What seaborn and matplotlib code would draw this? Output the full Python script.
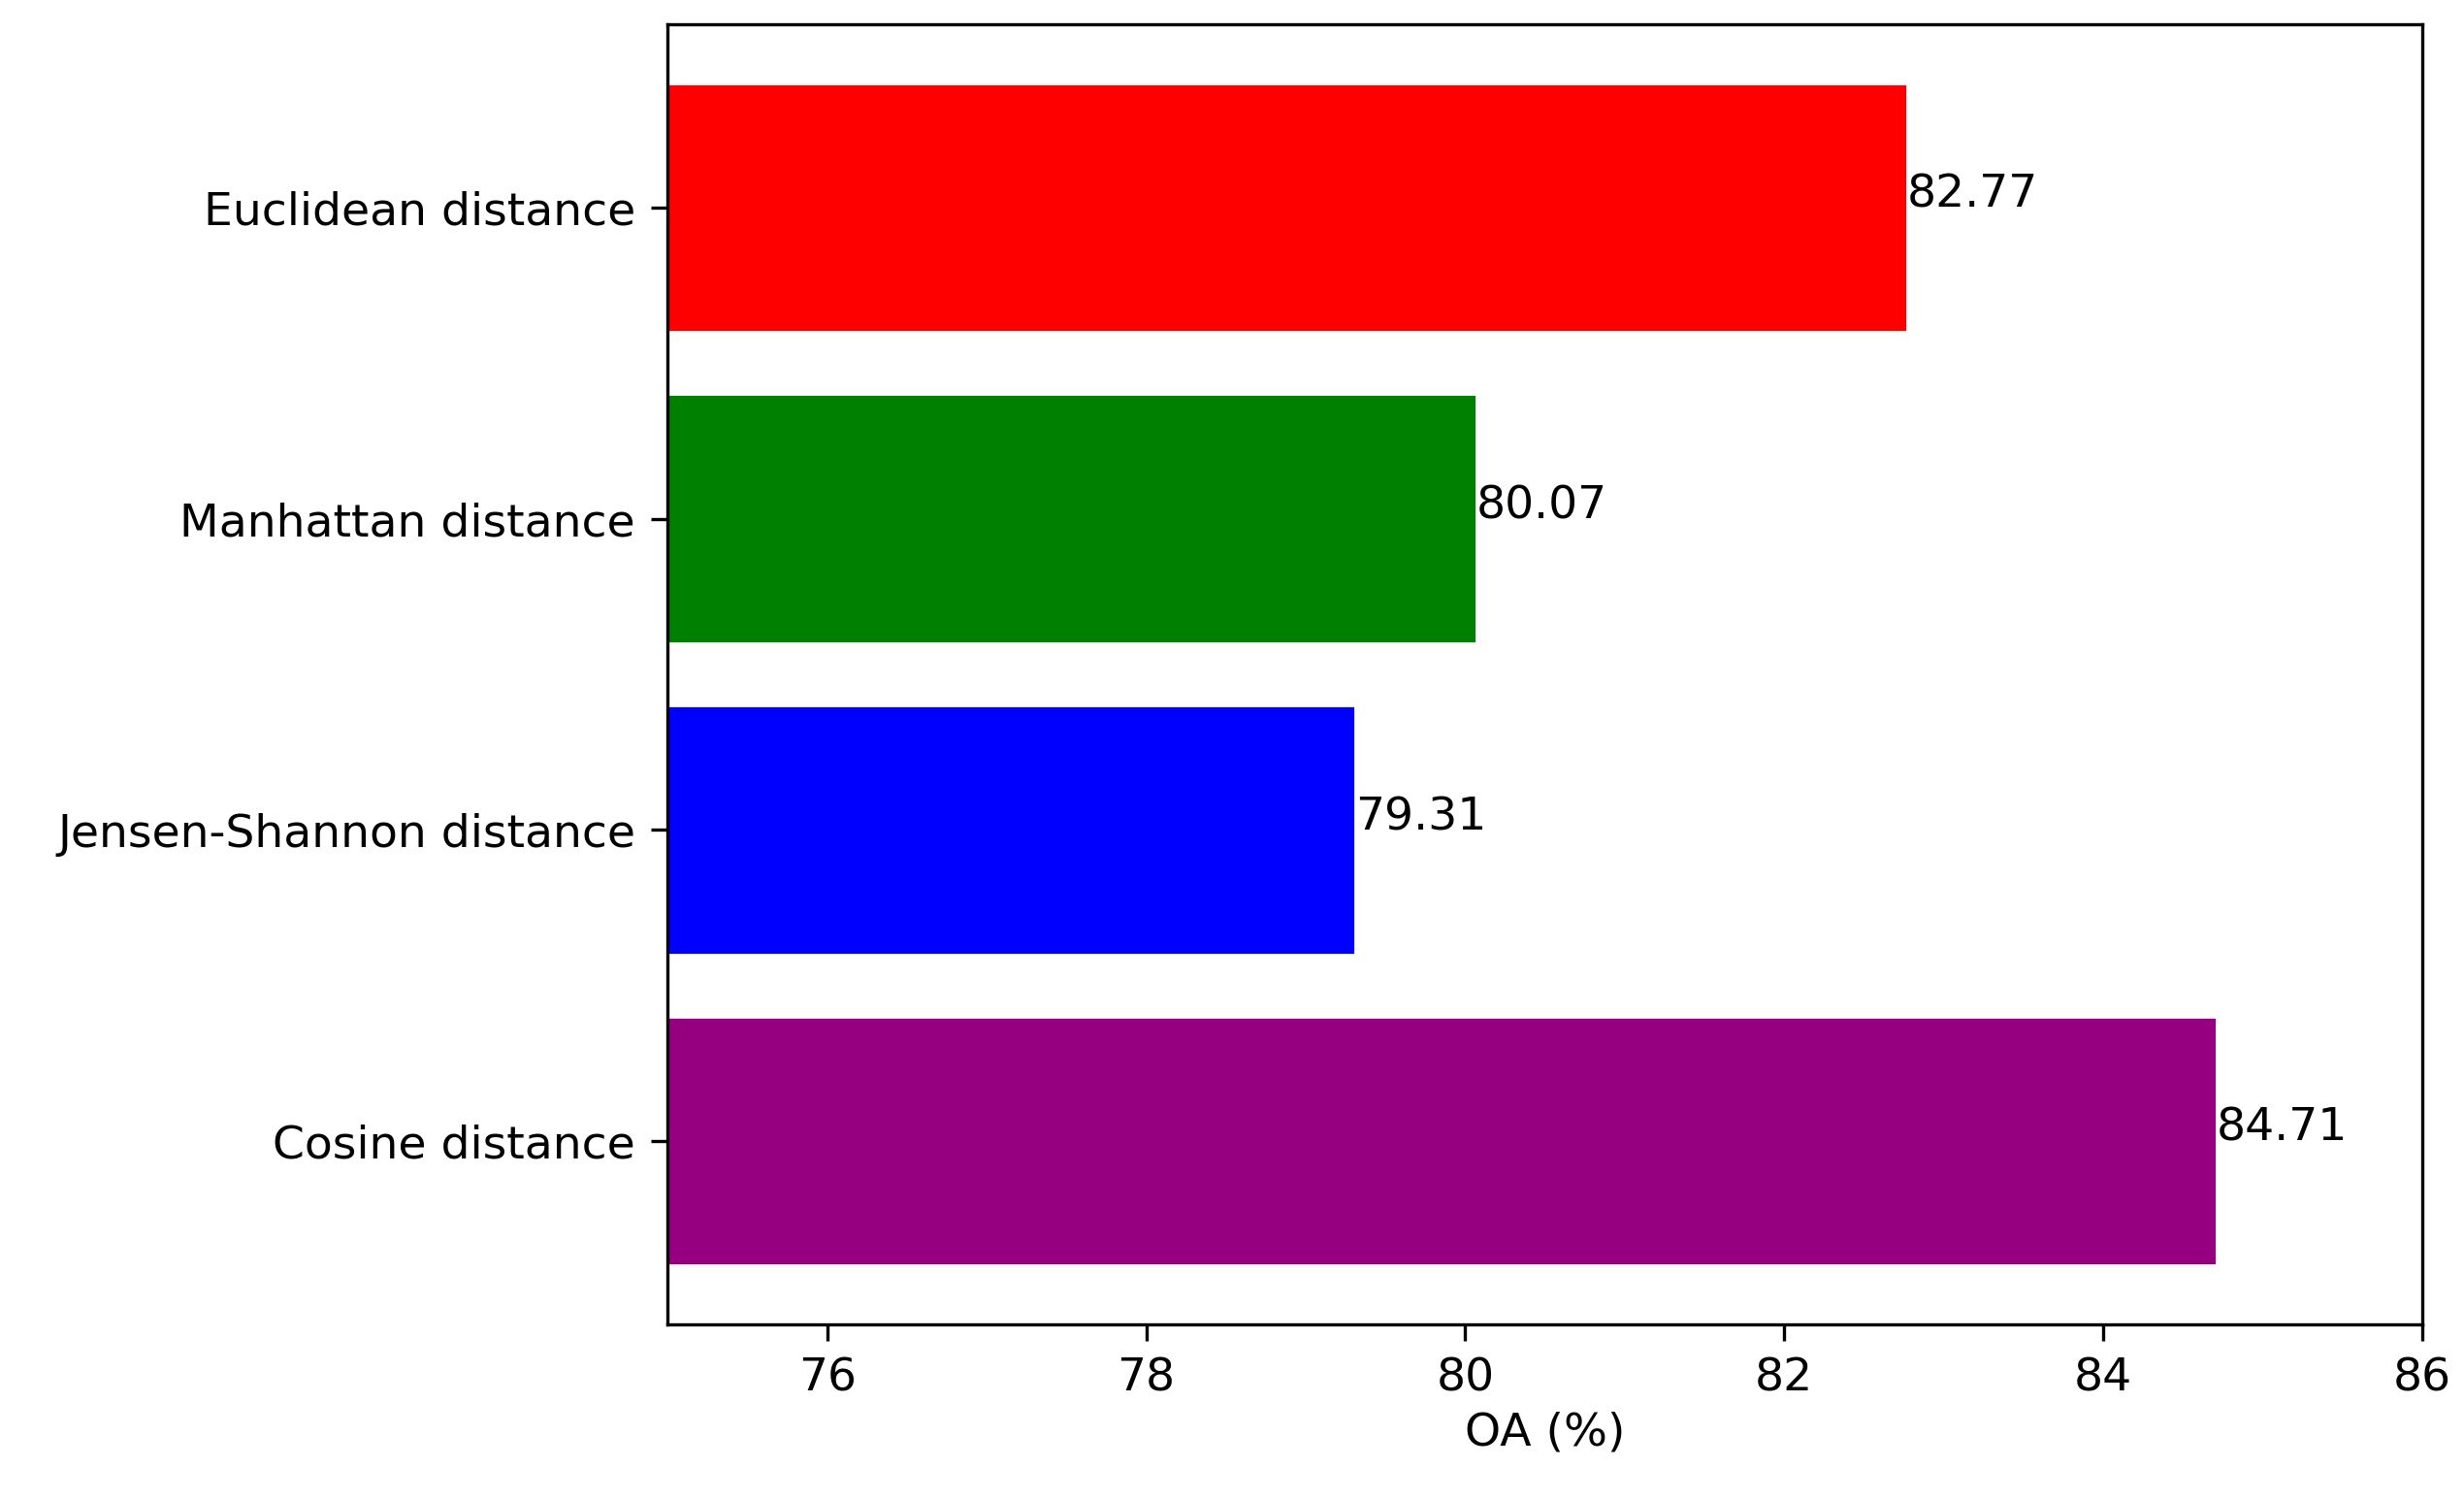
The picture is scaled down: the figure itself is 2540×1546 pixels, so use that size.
import matplotlib
matplotlib.use("Agg")
import matplotlib.pyplot as plt
import seaborn as sns
import pandas as pd

# distance metrics and overall accuracy
methods = ['Euclidean distance', 'Manhattan distance', 'Jensen-Shannon distance', 'Cosine distance']
oa_values = [82.77, 80.07, 79.31, 84.71]
bar_colors = ['#ff0000', '#008000', '#0000ff', '#960080']

df = pd.DataFrame({'method': methods, 'oa': oa_values})

sns.set_style('ticks')
plt.rcParams['font.family'] = ['DejaVu Sans']
plt.rcParams['text.color'] = 'black'
plt.rcParams['xtick.color'] = 'black'
plt.rcParams['ytick.color'] = 'black'
plt.rcParams['axes.labelcolor'] = 'black'

fig = plt.figure(figsize=(12.7, 7.73), dpi=200)
ax = fig.add_axes([0.271, 0.117, 0.712, 0.867])

sns.barplot(data=df, x='oa', y='method', hue='method', palette=bar_colors,
            width=0.8, saturation=1, legend=False, ax=ax)

# value labels at bar ends
for i, v in enumerate(oa_values):
    ax.text(v, i, str(v), fontsize=17)

ax.set_xlim(75, 86)
ax.set_ylim(3.59, -0.59)
ax.set_xticks([76, 78, 80, 82, 84, 86])
ax.set_xlabel('OA (%)', fontsize=17)
ax.set_ylabel('')
ax.tick_params(labelsize=17, length=6, width=1.2, pad=6)
for s in ax.spines.values():
    s.set_linewidth(1.2)
    s.set_color('black')

fig.savefig('out.png', dpi=200)
